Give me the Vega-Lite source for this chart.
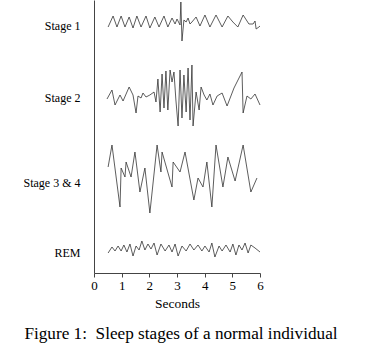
{
  "$schema": "https://vega.github.io/schema/vega-lite/v6.json",
  "width": 166,
  "height": 273,
  "autosize": {"type": "none"},
  "padding": {"left": 94, "top": 0, "right": 105, "bottom": 87},
  "background": "white",
  "config": {
    "view": {"stroke": null},
    "font": "Liberation Serif",
    "axis": {"labelFont": "Liberation Serif", "titleFont": "Liberation Serif", "labelColor": "black", "titleColor": "black", "grid": false, "domainColor": "#444", "tickColor": "#444"},
    "title": {"font": "Liberation Serif", "color": "black"}
  },
  "title": {"text": "Figure 1:\u00a0\u00a0Sleep stages of a normal individual", "orient": "bottom", "anchor": "middle", "frame": "group", "fontSize": 17.2, "fontWeight": "normal", "offset": 15, "dx": 4},
  "datasets": {
    "eeg": [
      {"stage": "Stage 1", "t": 0.51, "v": 246}, {"stage": "Stage 1", "t": 0.69, "v": 257}, {"stage": "Stage 1", "t": 0.83, "v": 246}, {"stage": "Stage 1", "t": 0.98, "v": 257}, {"stage": "Stage 1", "t": 1.12, "v": 246}, {"stage": "Stage 1", "t": 1.27, "v": 256}, {"stage": "Stage 1", "t": 1.41, "v": 245}, {"stage": "Stage 1", "t": 1.55, "v": 257}, {"stage": "Stage 1", "t": 1.70, "v": 246}, {"stage": "Stage 1", "t": 1.88, "v": 257}, {"stage": "Stage 1", "t": 2.02, "v": 245}, {"stage": "Stage 1", "t": 2.20, "v": 256}, {"stage": "Stage 1", "t": 2.35, "v": 246}, {"stage": "Stage 1", "t": 2.53, "v": 257}, {"stage": "Stage 1", "t": 2.67, "v": 246}, {"stage": "Stage 1", "t": 2.82, "v": 255}, {"stage": "Stage 1", "t": 2.93, "v": 249}, {"stage": "Stage 1", "t": 3.00, "v": 254}, {"stage": "Stage 1", "t": 3.11, "v": 248}, {"stage": "Stage 1", "t": 3.14, "v": 271}, {"stage": "Stage 1", "t": 3.18, "v": 232}, {"stage": "Stage 1", "t": 3.25, "v": 253}, {"stage": "Stage 1", "t": 3.33, "v": 251}, {"stage": "Stage 1", "t": 3.40, "v": 255}, {"stage": "Stage 1", "t": 3.47, "v": 249}, {"stage": "Stage 1", "t": 3.54, "v": 251}, {"stage": "Stage 1", "t": 3.69, "v": 256}, {"stage": "Stage 1", "t": 3.83, "v": 247}, {"stage": "Stage 1", "t": 4.01, "v": 258}, {"stage": "Stage 1", "t": 4.19, "v": 246}, {"stage": "Stage 1", "t": 4.41, "v": 258}, {"stage": "Stage 1", "t": 4.63, "v": 246}, {"stage": "Stage 1", "t": 4.84, "v": 257}, {"stage": "Stage 1", "t": 5.02, "v": 251}, {"stage": "Stage 1", "t": 5.20, "v": 246}, {"stage": "Stage 1", "t": 5.39, "v": 258}, {"stage": "Stage 1", "t": 5.60, "v": 249}, {"stage": "Stage 1", "t": 5.75, "v": 249}, {"stage": "Stage 1", "t": 5.82, "v": 252}, {"stage": "Stage 1", "t": 5.86, "v": 244}, {"stage": "Stage 1", "t": 5.96, "v": 246}, {"stage": "Stage 1", "t": 6.00, "v": 247},

      {"stage": "Stage 2", "t": 0.47, "v": 174}, {"stage": "Stage 2", "t": 0.65, "v": 183}, {"stage": "Stage 2", "t": 0.76, "v": 168}, {"stage": "Stage 2", "t": 0.94, "v": 178}, {"stage": "Stage 2", "t": 1.05, "v": 172}, {"stage": "Stage 2", "t": 1.27, "v": 186}, {"stage": "Stage 2", "t": 1.41, "v": 178}, {"stage": "Stage 2", "t": 1.52, "v": 160}, {"stage": "Stage 2", "t": 1.59, "v": 177}, {"stage": "Stage 2", "t": 1.70, "v": 175}, {"stage": "Stage 2", "t": 1.77, "v": 180}, {"stage": "Stage 2", "t": 1.88, "v": 176}, {"stage": "Stage 2", "t": 2.02, "v": 178}, {"stage": "Stage 2", "t": 2.17, "v": 181}, {"stage": "Stage 2", "t": 2.24, "v": 171}, {"stage": "Stage 2", "t": 2.31, "v": 194}, {"stage": "Stage 2", "t": 2.39, "v": 161}, {"stage": "Stage 2", "t": 2.46, "v": 199}, {"stage": "Stage 2", "t": 2.53, "v": 165}, {"stage": "Stage 2", "t": 2.60, "v": 202}, {"stage": "Stage 2", "t": 2.67, "v": 163}, {"stage": "Stage 2", "t": 2.75, "v": 203}, {"stage": "Stage 2", "t": 2.82, "v": 191}, {"stage": "Stage 2", "t": 2.89, "v": 201}, {"stage": "Stage 2", "t": 2.96, "v": 173}, {"stage": "Stage 2", "t": 3.04, "v": 147}, {"stage": "Stage 2", "t": 3.11, "v": 203}, {"stage": "Stage 2", "t": 3.18, "v": 155}, {"stage": "Stage 2", "t": 3.25, "v": 198}, {"stage": "Stage 2", "t": 3.33, "v": 161}, {"stage": "Stage 2", "t": 3.40, "v": 205}, {"stage": "Stage 2", "t": 3.47, "v": 153}, {"stage": "Stage 2", "t": 3.54, "v": 208}, {"stage": "Stage 2", "t": 3.58, "v": 147}, {"stage": "Stage 2", "t": 3.69, "v": 181}, {"stage": "Stage 2", "t": 3.80, "v": 163}, {"stage": "Stage 2", "t": 3.87, "v": 186}, {"stage": "Stage 2", "t": 3.98, "v": 178}, {"stage": "Stage 2", "t": 4.08, "v": 173}, {"stage": "Stage 2", "t": 4.19, "v": 179}, {"stage": "Stage 2", "t": 4.30, "v": 168}, {"stage": "Stage 2", "t": 4.45, "v": 177}, {"stage": "Stage 2", "t": 4.63, "v": 180}, {"stage": "Stage 2", "t": 4.81, "v": 167}, {"stage": "Stage 2", "t": 5.06, "v": 185}, {"stage": "Stage 2", "t": 5.35, "v": 201}, {"stage": "Stage 2", "t": 5.39, "v": 160}, {"stage": "Stage 2", "t": 5.53, "v": 177}, {"stage": "Stage 2", "t": 5.67, "v": 174}, {"stage": "Stage 2", "t": 5.82, "v": 179}, {"stage": "Stage 2", "t": 6.00, "v": 168},

      {"stage": "Stage 3 & 4", "t": 0.51, "v": 106}, {"stage": "Stage 3 & 4", "t": 0.65, "v": 128}, {"stage": "Stage 3 & 4", "t": 0.94, "v": 66}, {"stage": "Stage 3 & 4", "t": 0.98, "v": 105}, {"stage": "Stage 3 & 4", "t": 1.12, "v": 96}, {"stage": "Stage 3 & 4", "t": 1.16, "v": 111}, {"stage": "Stage 3 & 4", "t": 1.34, "v": 96}, {"stage": "Stage 3 & 4", "t": 1.48, "v": 121}, {"stage": "Stage 3 & 4", "t": 1.66, "v": 81}, {"stage": "Stage 3 & 4", "t": 1.84, "v": 105}, {"stage": "Stage 3 & 4", "t": 2.02, "v": 60}, {"stage": "Stage 3 & 4", "t": 2.28, "v": 128}, {"stage": "Stage 3 & 4", "t": 2.42, "v": 101}, {"stage": "Stage 3 & 4", "t": 2.46, "v": 121}, {"stage": "Stage 3 & 4", "t": 2.82, "v": 86}, {"stage": "Stage 3 & 4", "t": 2.86, "v": 111}, {"stage": "Stage 3 & 4", "t": 3.11, "v": 101}, {"stage": "Stage 3 & 4", "t": 3.29, "v": 121}, {"stage": "Stage 3 & 4", "t": 3.61, "v": 73}, {"stage": "Stage 3 & 4", "t": 3.76, "v": 95}, {"stage": "Stage 3 & 4", "t": 3.94, "v": 86}, {"stage": "Stage 3 & 4", "t": 4.08, "v": 111}, {"stage": "Stage 3 & 4", "t": 4.26, "v": 66}, {"stage": "Stage 3 & 4", "t": 4.41, "v": 128}, {"stage": "Stage 3 & 4", "t": 4.66, "v": 86}, {"stage": "Stage 3 & 4", "t": 4.84, "v": 116}, {"stage": "Stage 3 & 4", "t": 5.10, "v": 92}, {"stage": "Stage 3 & 4", "t": 5.39, "v": 128}, {"stage": "Stage 3 & 4", "t": 5.67, "v": 81}, {"stage": "Stage 3 & 4", "t": 5.89, "v": 95},

      {"stage": "REM", "t": 0.51, "v": 20}, {"stage": "REM", "t": 0.65, "v": 26}, {"stage": "REM", "t": 0.76, "v": 22}, {"stage": "REM", "t": 0.87, "v": 27}, {"stage": "REM", "t": 0.98, "v": 22}, {"stage": "REM", "t": 1.08, "v": 28}, {"stage": "REM", "t": 1.19, "v": 21}, {"stage": "REM", "t": 1.30, "v": 29}, {"stage": "REM", "t": 1.41, "v": 17}, {"stage": "REM", "t": 1.52, "v": 27}, {"stage": "REM", "t": 1.63, "v": 23}, {"stage": "REM", "t": 1.73, "v": 32}, {"stage": "REM", "t": 1.84, "v": 23}, {"stage": "REM", "t": 1.95, "v": 29}, {"stage": "REM", "t": 2.06, "v": 24}, {"stage": "REM", "t": 2.17, "v": 30}, {"stage": "REM", "t": 2.28, "v": 18}, {"stage": "REM", "t": 2.42, "v": 29}, {"stage": "REM", "t": 2.57, "v": 22}, {"stage": "REM", "t": 2.71, "v": 28}, {"stage": "REM", "t": 2.82, "v": 21}, {"stage": "REM", "t": 2.93, "v": 29}, {"stage": "REM", "t": 3.04, "v": 17}, {"stage": "REM", "t": 3.18, "v": 27}, {"stage": "REM", "t": 3.33, "v": 22}, {"stage": "REM", "t": 3.47, "v": 29}, {"stage": "REM", "t": 3.61, "v": 23}, {"stage": "REM", "t": 3.76, "v": 28}, {"stage": "REM", "t": 3.90, "v": 22}, {"stage": "REM", "t": 4.01, "v": 27}, {"stage": "REM", "t": 4.16, "v": 21}, {"stage": "REM", "t": 4.26, "v": 30}, {"stage": "REM", "t": 4.37, "v": 16}, {"stage": "REM", "t": 4.52, "v": 27}, {"stage": "REM", "t": 4.63, "v": 22}, {"stage": "REM", "t": 4.77, "v": 28}, {"stage": "REM", "t": 4.92, "v": 21}, {"stage": "REM", "t": 5.02, "v": 29}, {"stage": "REM", "t": 5.13, "v": 18}, {"stage": "REM", "t": 5.24, "v": 28}, {"stage": "REM", "t": 5.35, "v": 23}, {"stage": "REM", "t": 5.46, "v": 30}, {"stage": "REM", "t": 5.57, "v": 20}, {"stage": "REM", "t": 5.67, "v": 28}, {"stage": "REM", "t": 5.82, "v": 25}, {"stage": "REM", "t": 6.00, "v": 21}
    ]
  },
  "data": {"name": "eeg"},
  "mark": {"type": "line", "color": "#333", "strokeWidth": 0.8, "interpolate": "linear"},
  "encoding": {
    "x": {
      "field": "t", "type": "quantitative",
      "scale": {"domain": [0, 6], "nice": false, "zero": false},
      "axis": {"title": "Seconds", "values": [0, 1, 2, 3, 4, 5, 6], "format": "d", "labelFontSize": 13, "titleFontSize": 13.5, "titleFontWeight": "normal", "tickSize": 4, "labelPadding": 2, "titlePadding": 4, "labelFlush": false}
    },
    "y": {
      "field": "v", "type": "quantitative",
      "scale": {"domain": [0, 273], "nice": false, "zero": false},
      "axis": {"title": null, "values": [248, 176, 91, 21], "ticks": false, "labelPadding": 14, "labelFontSize": 12, "labelExpr": "datum.value == 248 ? 'Stage 1' : datum.value == 176 ? 'Stage 2' : datum.value == 91 ? 'Stage 3 & 4' : 'REM'"}
    },
    "detail": {"field": "stage"}
  }
}
